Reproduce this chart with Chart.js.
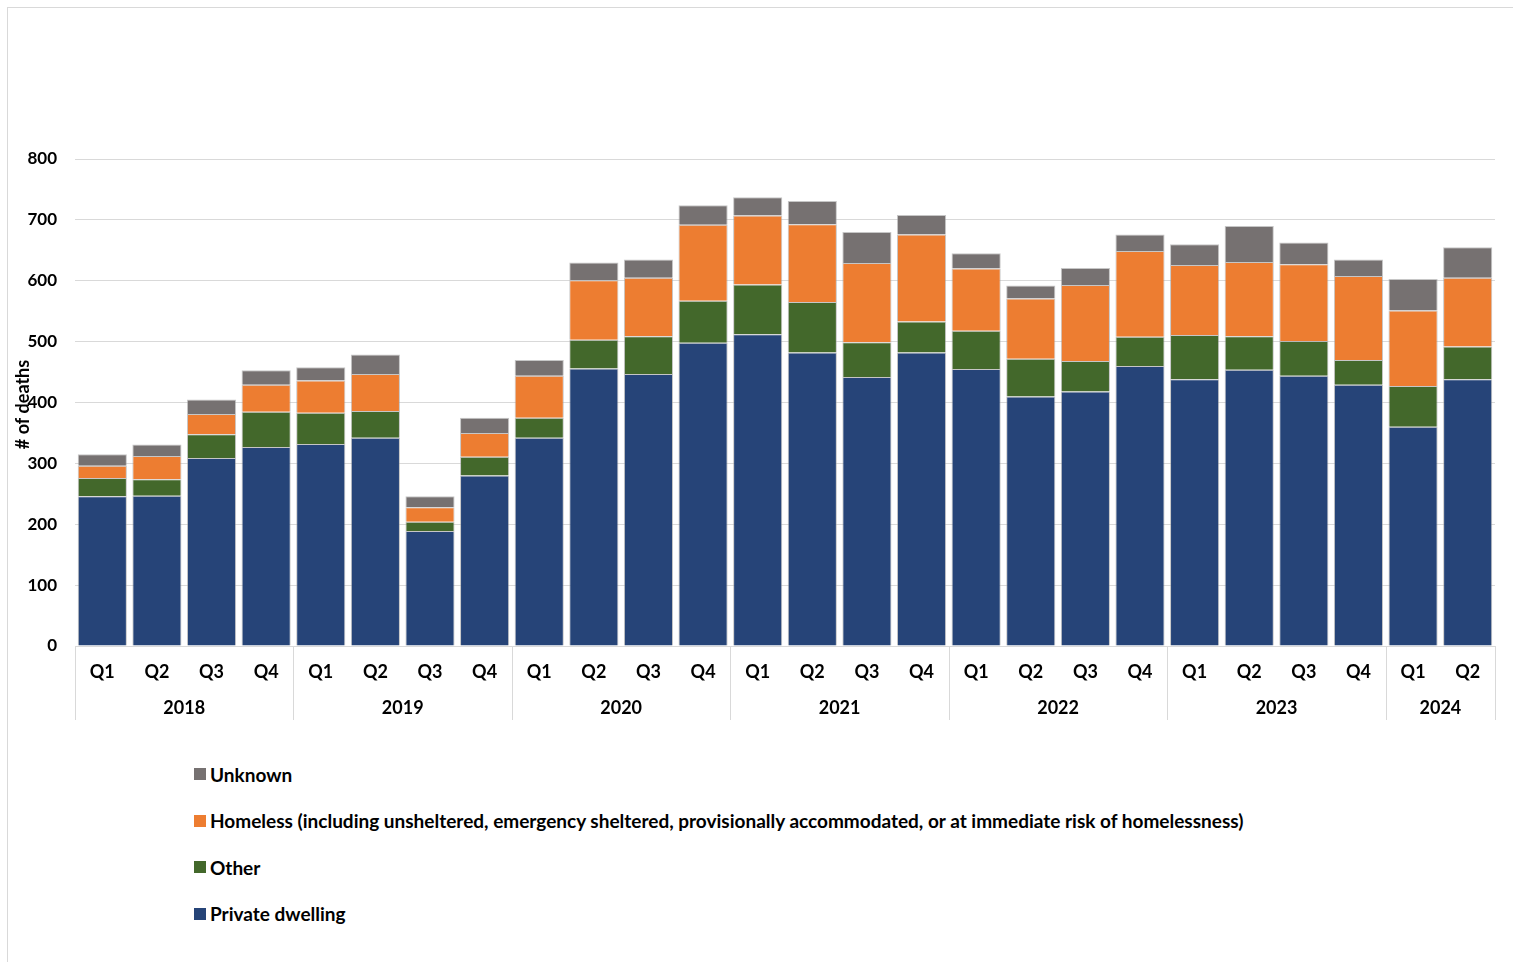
<!DOCTYPE html>
<html>
<head>
<meta charset="utf-8">
<script src="https://cdn.jsdelivr.net/npm/chart.js@4"></script>
<style>
    body { margin: 0; background: #fff; overflow: hidden; font-family: Lato, "Liberation Sans", sans-serif; }
    .frame { position: absolute; left: 7px; top: 7px; width: 1520px; height: 980px; border: 1px solid #d9d9d9; box-sizing: border-box; }
    .chart-wrap { position: absolute; left: 8px; top: 8px; width: 1500px; height: 720px; }
    #legend { position: absolute; left: 194px; top: 762px; }
    .legend-item { display: flex; align-items: center; height: 24px; margin-bottom: 22.5px; font-weight: bold; font-size: 19px; color: #000; }
    .legend-box { width: 12px; height: 12px; margin-right: 4px; }
</style>
</head>
<body>
<div class="frame"></div>
<div class="chart-wrap"><canvas id="deathsChart"></canvas></div>
<div id="legend"></div>

<script>
// Data
const quarterLabels = ['Q1','Q2','Q3','Q4','Q1','Q2','Q3','Q4','Q1','Q2','Q3','Q4','Q1','Q2','Q3','Q4','Q1','Q2','Q3','Q4','Q1','Q2','Q3','Q4','Q1','Q2'];
const yearLabels = ['2018','2018','2018','2018','2019','2019','2019','2019','2020','2020','2020','2020','2021','2021','2021','2021','2022','2022','2022','2022','2023','2023','2023','2023','2024','2024'];

const privateDwelling = [246, 247, 309, 327, 332, 342, 189, 280, 342, 456, 447, 498, 512, 482, 442, 482, 455, 410, 418, 460, 438, 454, 444, 429, 360, 438];
const other = [30, 27, 39, 58, 51, 44, 15, 31, 33, 47, 62, 69, 82, 83, 57, 51, 63, 62, 50, 48, 73, 55, 57, 41, 67, 54];
const homeless = [20, 38, 33, 44, 53, 61, 24, 39, 69, 98, 96, 125, 113, 128, 130, 143, 102, 99, 125, 141, 115, 122, 126, 138, 124, 113];
const unknown = [19, 19, 24, 24, 22, 32, 18, 25, 26, 29, 30, 32, 30, 38, 51, 32, 25, 21, 28, 27, 34, 59, 36, 27, 52, 50];

const yTicks = [0, 100, 200, 300, 400, 500, 600, 700, 800];

const FONT = 'Lato, "Liberation Sans", sans-serif';
const GRID = '#d9d9d9';

// Year row under the quarters + separators
const yearRowPlugin = {
    id: 'yearRow',
    afterDraw(chart) {
        const { ctx, chartArea, scales } = chart;
        const x = scales.x;
        const half = (x.getPixelForValue(1) - x.getPixelForValue(0)) / 2;

        // group consecutive bars by year
        const groups = [];
        yearLabels.forEach((yr, i) => {
            const last = groups[groups.length - 1];
            if (last && last.year === yr) last.end = i;
            else groups.push({ year: yr, start: i, end: i });
        });

        ctx.save();
        ctx.strokeStyle = GRID;
        ctx.lineWidth = 1;
        ctx.fillStyle = '#000';
        ctx.font = `bold 18px ${FONT}`;
        ctx.textAlign = 'center';
        ctx.textBaseline = 'middle';
        groups.forEach((g, idx) => {
            const left = x.getPixelForValue(g.start) - half;
            const right = x.getPixelForValue(g.end) + half;
            ctx.beginPath();
            ctx.moveTo(Math.round(left) + 0.5, chartArea.bottom);
            ctx.lineTo(Math.round(left) + 0.5, chartArea.bottom + 74);
            if (idx === groups.length - 1) {
                ctx.moveTo(Math.round(right) + 0.5, chartArea.bottom);
                ctx.lineTo(Math.round(right) + 0.5, chartArea.bottom + 74);
            }
            ctx.stroke();
            ctx.fillText(g.year, (left + right) / 2, chartArea.bottom + 62);
        });

        // y axis title sits over the tick labels like the original
        ctx.translate(15, (chartArea.top + chartArea.bottom) / 2 + 2);
        ctx.rotate(-Math.PI / 2);
        ctx.fillText('# of deaths', 0, 0);
        ctx.restore();
    }
};

// Chart
const ctx = document.getElementById('deathsChart').getContext('2d');
const chartInstance = new Chart(ctx, {
    type: 'bar',
    data: {
        labels: quarterLabels,
        datasets: [
            { label: 'Private dwelling', data: privateDwelling, backgroundColor: '#264478' },
            { label: 'Other', data: other, backgroundColor: '#43682b' },
            { label: 'Homeless (including unsheltered, emergency sheltered, provisionally accommodated, or at immediate risk of homelessness)', data: homeless, backgroundColor: '#ed7d31' },
            { label: 'Unknown', data: unknown, backgroundColor: '#767171' }
        ].map(ds => ({ ...ds, borderColor: 'rgba(160,160,160,0.6)', borderWidth: 1, barPercentage: 0.9, categoryPercentage: 1 }))
    },
    options: {
        responsive: true,
        maintainAspectRatio: false,
        animation: false,
        layout: { padding: { top: 151, right: 13, left: 0, bottom: 0 } },
        plugins: {
            legend: { display: false },
            tooltip: { enabled: false }
        },
        scales: {
            x: {
                stacked: true,
                grid: { display: false },
                border: { display: true, color: GRID, width: 1 },
                ticks: { color: '#000', font: { family: FONT, size: 18, weight: 'bold' }, padding: 7, maxRotation: 0, autoSkip: false },
                afterFit(scale) { scale.height = 82; }
            },
            y: {
                stacked: true,
                min: 0,
                max: 800,
                afterBuildTicks(scale) { scale.ticks = yTicks.map(v => ({ value: v })); },
                grid: { color: GRID, drawTicks: false },
                border: { display: false },
                ticks: { color: '#000', font: { family: FONT, size: 17, weight: 'bold' }, padding: 18 },
                afterFit(scale) { scale.width = 67; }
            }
        }
    },
    plugins: [yearRowPlugin]
});

// Legend (vertical list, stacked order reversed)
document.getElementById('legend').innerHTML = chartInstance.data.datasets.slice().reverse().map(ds => `
    <div class="legend-item">
        <span class="legend-box" style="background:${ds.backgroundColor}"></span>${ds.label}
    </div>
`).join('');
</script>
</body>
</html>
